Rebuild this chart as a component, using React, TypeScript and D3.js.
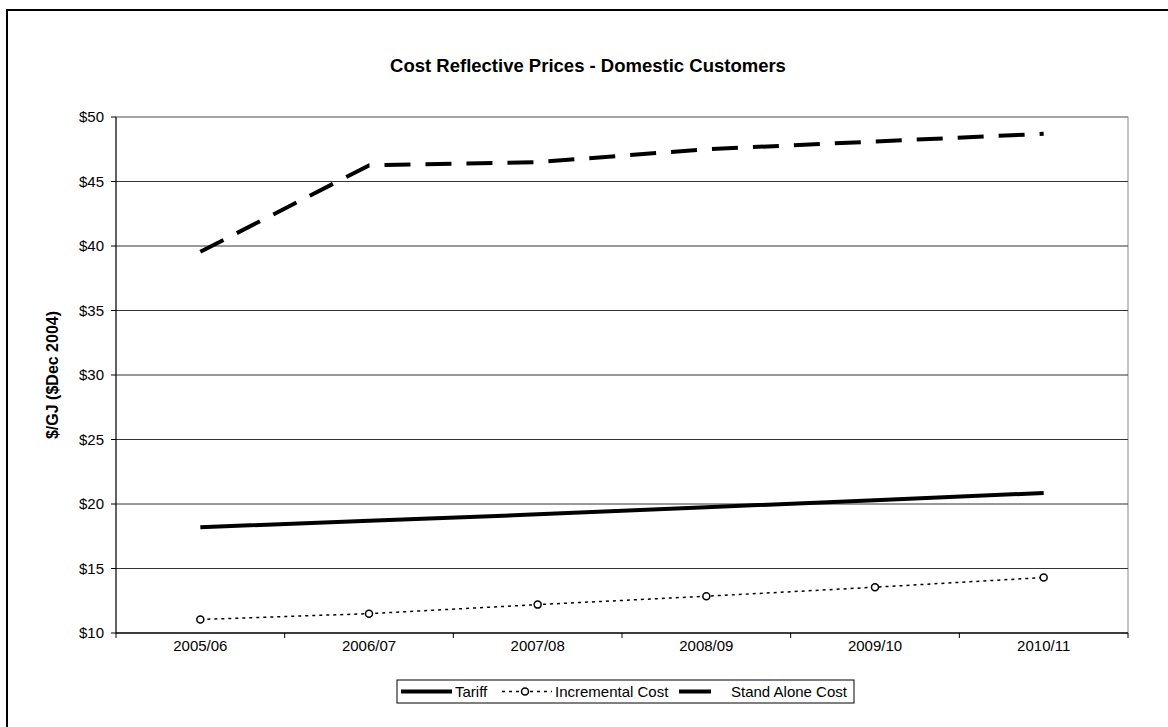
import React from "react";
import * as d3 from "d3";

const categories = ["2005/06", "2006/07", "2007/08", "2008/09", "2009/10", "2010/11"];
const tariff = [18.2, 18.7, 19.2, 19.75, 20.3, 20.85];
const incremental = [11.05, 11.5, 12.2, 12.85, 13.55, 14.3];
const standAlone = [39.55, 46.25, 46.5, 47.5, 48.1, 48.7];
const yTicks = [10, 15, 20, 25, 30, 35, 40, 45, 50];

const W = 1168;
const H = 727;
const left = 116;
const right = 1128;
const top = 117;
const bottom = 633;
const font = "'Liberation Sans', Arial, sans-serif";

export default function App() {
  const x = d3.scaleBand<string>().domain(categories).range([left, right]);
  const y = d3.scaleLinear().domain([10, 50]).range([bottom, top]);
  const cx = (c: string) => (x(c) as number) + x.bandwidth() / 2;
  const line = d3
    .line<number>()
    .x((_, i) => cx(categories[i]))
    .y((v) => y(v));

  const boundaries = categories.map((c) => x(c) as number).concat([right]);

  return (
    <svg width={W} height={H} style={{ position: "absolute", left: 0, top: 0, background: "#fff" }}>
      <rect x={0} y={0} width={W} height={H} fill="#fff" />
      <rect x={7} y={10} width={W + 20} height={H + 20} fill="none" stroke="#000" strokeWidth={2} />
      <text x={588} y={72} textAnchor="middle" fontFamily={font} fontWeight="bold" fontSize={18.5}>
        Cost Reflective Prices - Domestic Customers
      </text>
      {/* plot border */}
      <rect x={left} y={top} width={right - left} height={bottom - top} fill="none" stroke="#888" strokeWidth={1} />
      {/* gridlines */}
      {yTicks.map((t) => (
        <line key={"g" + t} x1={left} x2={right} y1={y(t)} y2={y(t)} stroke={t === 50 ? "#888" : "#333"} strokeWidth={1} />
      ))}
      {/* y axis */}
      <line x1={left} x2={left} y1={top} y2={bottom} stroke="#000" strokeWidth={1} />
      {yTicks.map((t) => (
        <g key={"y" + t}>
          <line x1={left - 5} x2={left} y1={y(t)} y2={y(t)} stroke="#000" />
          <text x={left - 12} y={y(t) + 5} textAnchor="end" fontFamily={font} fontSize={15}>
            {"$" + t}
          </text>
        </g>
      ))}
      <text
        transform={`translate(58,${(top + bottom) / 2}) rotate(-90)`}
        textAnchor="middle"
        fontFamily={font}
        fontWeight="bold"
        fontSize={16}
      >
        $/GJ ($Dec 2004)
      </text>
      {/* x axis */}
      <line x1={left} x2={right} y1={bottom} y2={bottom} stroke="#000" strokeWidth={1} />
      {boundaries.map((b, i) => (
        <line key={"xt" + i} x1={b} x2={b} y1={bottom} y2={bottom + 5} stroke="#000" />
      ))}
      {categories.map((c) => (
        <text key={"xl" + c} x={cx(c)} y={bottom + 18} textAnchor="middle" fontFamily={font} fontSize={15}>
          {c}
        </text>
      ))}
      {/* series */}
      <path d={line(standAlone) as string} fill="none" stroke="#000" strokeWidth={4} strokeDasharray="26,15" />
      <path d={line(tariff) as string} fill="none" stroke="#000" strokeWidth={4} />
      <path d={line(incremental) as string} fill="none" stroke="#000" strokeWidth={1.5} strokeDasharray="3,4" />
      {incremental.map((v, i) => (
        <circle key={"c" + i} cx={cx(categories[i])} cy={y(v)} r={3.5} fill="#fff" stroke="#000" strokeWidth={1.5} />
      ))}
      {/* legend */}
      <rect x={397} y={680} width={457} height={23} fill="#fff" stroke="#000" strokeWidth={1} />
      <line x1={401} x2={452} y1={691.5} y2={691.5} stroke="#000" strokeWidth={4} />
      <text x={455} y={697} fontFamily={font} fontSize={15}>Tariff</text>
      <line x1={502} x2={552} y1={691.5} y2={691.5} stroke="#000" strokeWidth={1.5} strokeDasharray="3,4" />
      <circle cx={525} cy={691.5} r={3.5} fill="#fff" stroke="#000" strokeWidth={1.5} />
      <text x={555} y={697} fontFamily={font} fontSize={15}>Incremental Cost</text>
      <line x1={679} x2={711} y1={691.5} y2={691.5} stroke="#000" strokeWidth={4} />
      <text x={731} y={697} fontFamily={font} fontSize={15}>Stand Alone Cost</text>
    </svg>
  );
}
